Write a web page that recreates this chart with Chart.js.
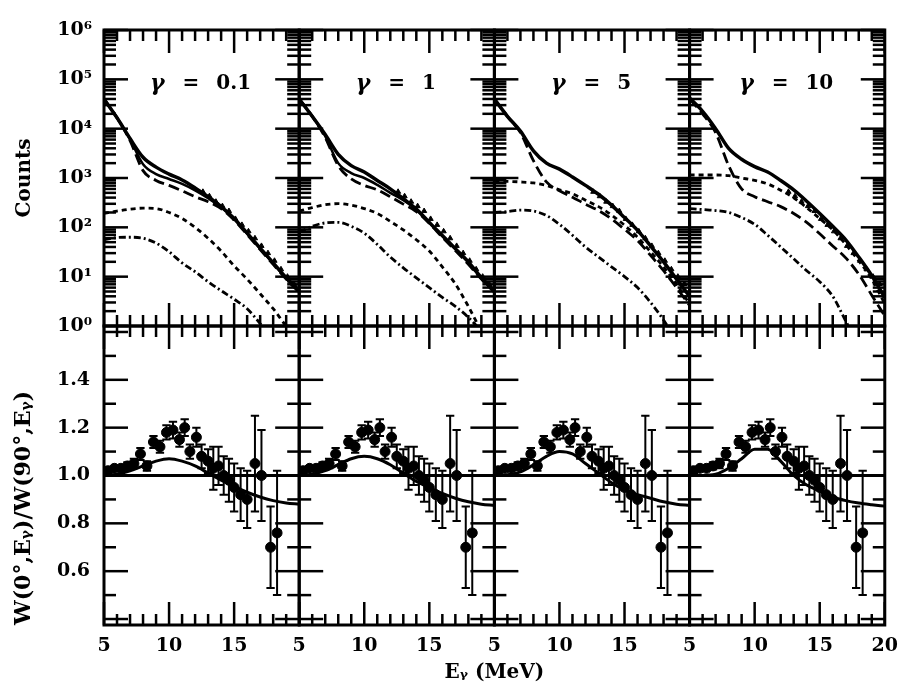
<!DOCTYPE html>
<html><head><meta charset="utf-8">
<script src="https://cdn.jsdelivr.net/npm/chart.js@4.4.1/dist/chart.umd.min.js"></script>
<style>html,body{margin:0;padding:0;background:#fff;}canvas{display:block}</style>
</head><body>
<canvas id="c" width="908" height="687"></canvas>
<script>
// ---------- data ----------
const gammaLabels = ['0.1', '1', '5', '10'];
const energyGrid = [5,6,7,8,9,10,11,12,13,14,15,16,17,18,19,20];

// top row: counts (gamma = 0.1)
const totalG01     = [39800,16600,6310,2630,1660,1200,912,631,417,263,151,76,38,19,9.5,5.2];
const secondG01    = [39800,16600,6030,1905,1200,955,759,562,389,257,148,74,37,18.6,9.3,5.1];
const longDashG01  = [39800,16600,5750,1410,891,708,550,417,331,240,141,71,35.5,17.8,8.9,4.8];
const shortDashG01 = [191,214,234,245,240,200,151,100,60,33,16.6,8.9,4.5,2.24,1.0,0.5];
const dashDotG01   = [56,62,63,60,48,32,19,12.6,7.9,5.2,3.5,2.24,1.12,0.5,0.25,0.13];
// gamma = 1
const totalG1      = [39800,17800,7590,3020,1780,1320,891,603,380,234,126,68,37,20,9.5,5.2];
const secondG1     = [39800,17800,7080,2000,1260,1000,724,501,355,229,123,66,36,19.5,9.3,5.1];
const longDashG1   = [39800,17800,6610,1780,955,708,575,417,295,209,120,63,34,17.8,8.9,4.8];
const shortDashG1  = [214,251,288,302,282,240,191,132,89,56,33,15.8,7.1,2.5,0.79,0.32];
const dashDotG1    = [79,105,123,126,105,76,45,25,15.1,9.5,6.0,3.8,2.5,1.5,0.79,0.4];
// gamma = 5
const totalG5      = [39800,17800,8910,3550,2000,1510,1050,708,468,282,158,87,42,20,8.9,4.0];
const longDashG5   = [39800,17800,8320,2240,832,550,407,295,219,148,91,54,27,13.2,6.0,2.6];
const shortDashG5  = [851,851,832,794,708,575,479,355,263,178,110,63,32,15.8,7.1,2.8];
const dashDotG5    = [200,209,224,214,174,115,69,40,25,15.8,10,6.0,3.0,1.32,0.5,0.2];
// gamma = 10
const totalG10     = [41700,22400,10000,3980,2400,1700,1320,891,575,339,191,105,56,25,10.5,3.8];
const longDashG10  = [39800,20000,8320,1780,603,417,331,263,191,126,74,42,24,11.2,4.2,1.6];
const shortDashG10 = [1150,1150,1150,1120,1000,891,759,562,398,251,151,89,45,21,8.9,2.8];
const dashDotG10   = [240,229,219,200,158,115,69,40,23,13.2,7.9,4.0,1.26,0.4,0.16,0.06];

// measured spectrum (triangles)
const countsE = [12.6,13.1,13.6,14.1,14.6,15.1,15.6,16.1,16.6,17.1,17.6,18.1,18.6,19.1,19.6];
const countsV = [525,427,331,269,214,148,112,83,60,42,30,21,14.1,10,7.1];

// bottom row: angular-distribution ratio
const ratioE   = [5.3,5.8,6.3,6.8,7.3,7.8,8.3,8.8,9.3,9.8,10.3,10.8,11.2,11.6,12.1,12.5,13.0,13.4,13.8,14.2,14.6,15.0,15.5,16.0,16.6,17.1,17.8,18.3];
const ratioV   = [1.02,1.03,1.03,1.04,1.05,1.09,1.04,1.14,1.12,1.18,1.19,1.15,1.20,1.10,1.16,1.08,1.06,1.03,1.04,1.00,0.98,0.95,0.92,0.90,1.05,1.00,0.70,0.76];
const ratioErr = [0.01,0.01,0.01,0.015,0.02,0.025,0.02,0.025,0.025,0.03,0.035,0.03,0.035,0.03,0.04,0.05,0.05,0.09,0.08,0.08,0.09,0.10,0.11,0.12,0.20,0.19,0.17,0.26];
const ratioFitG01 = [1.0,1.005,1.02,1.04,1.06,1.07,1.06,1.04,1.01,0.98,0.955,0.93,0.91,0.895,0.885,0.88];
const ratioFitG1  = [1.0,1.005,1.02,1.045,1.07,1.08,1.07,1.045,1.01,0.975,0.95,0.925,0.905,0.89,0.88,0.875];
const ratioFitG5  = [1.0,1.003,1.015,1.045,1.08,1.10,1.09,1.05,1.01,0.97,0.94,0.92,0.905,0.89,0.88,0.875];
const ratioFitG10 = [1.0,1.0,1.005,1.03,1.07,1.11,1.11,1.06,1.0,0.96,0.935,0.91,0.895,0.885,0.878,0.872];
const isoE = [5, 20];
const isoV = [1, 1];

// ticks
const countTicks = [1,10,100,1000,10000,100000,1000000];
const countTickLabels = ['10\u2070','10\u00b9','10\u00b2','10\u00b3','10\u2074','10\u2075','10\u2076'];
const ratioTicks = [0.6,0.8,1.0,1.2,1.4];
const ratioTickLabels = ['0.6','0.8','1.0','1.2','1.4'];
const energyTicks = [5,10,15];
const energyTicksLast = [5,10,15,20];
const energyTickLabels = ['5','10','15'];
const energyTickLabelsLast = ['5','10','15','20'];
const ratioMajor = [0.4,0.6,0.8,1.0,1.2,1.4,1.6];
const ratioMinor = [0.5,0.7,0.9,1.1,1.3,1.5];
const energyMinorStep = [5,6,7,8,9,10,11,12,13,14,15,16,17,18,19,20];

// ---------- build ----------
const xIds = ['x1','x2','x3','x4'];
const topSets = [
  {total: totalG01, second: secondG01, longD: longDashG01, shortD: shortDashG01, dd: dashDotG01},
  {total: totalG1,  second: secondG1,  longD: longDashG1,  shortD: shortDashG1,  dd: dashDotG1},
  {total: totalG5,  second: null,      longD: longDashG5,  shortD: shortDashG5,  dd: dashDotG5},
  {total: totalG10, second: null,      longD: longDashG10, shortD: shortDashG10, dd: dashDotG10}
];
const ratioFits = [ratioFitG01, ratioFitG1, ratioFitG5, ratioFitG10];

const pts = (xs, ys) => xs.map((x, i) => ({x, y: ys[i]}));
function lineSet(xid, yid, xs, ys, width, dash) {
  return {type:'scatter', xAxisID:xid, yAxisID:yid, data:pts(xs, ys), showLine:true,
    borderColor:'#000', backgroundColor:'#000', borderWidth:width, borderDash:dash || [],
    pointRadius:0, cubicInterpolationMode:'monotone', spanGaps:false};
}
function errorBars(xid, es, vs, errs) {
  const cap = 0.32;
  const d = [];
  es.forEach((e, i) => {
    const lo = vs[i] - errs[i], hi = vs[i] + errs[i];
    d.push({x:e,y:lo},{x:e,y:hi},{x:e,y:null},
           {x:e-cap,y:hi},{x:e+cap,y:hi},{x:e,y:null},
           {x:e-cap,y:lo},{x:e+cap,y:lo},{x:e,y:null});
  });
  return {type:'scatter', xAxisID:xid, yAxisID:'yBot', data:d, showLine:true, spanGaps:false,
    borderColor:'#000', borderWidth:2, pointRadius:0, tension:0};
}

const datasets = [];
xIds.forEach((xid, p) => {
  const s = topSets[p];
  datasets.push(lineSet(xid,'yTop',energyGrid,s.total,3.5));
  if (s.second) datasets.push(lineSet(xid,'yTop',energyGrid,s.second,2.5));
  datasets.push(lineSet(xid,'yTop',energyGrid,s.longD,2.8,[11,5]));
  datasets.push(lineSet(xid,'yTop',energyGrid,s.shortD,2.8,[5,4]));
  datasets.push(lineSet(xid,'yTop',energyGrid,s.dd,2.8,[7,3,2,3]));
  datasets.push({type:'scatter', xAxisID:xid, yAxisID:'yTop', data:pts(countsE,countsV),
    pointStyle:'triangle', pointRadius:3, backgroundColor:'#000', borderColor:'#000', borderWidth:1});
  datasets.push(lineSet(xid,'yBot',isoE,isoV,3));
  datasets.push(lineSet(xid,'yBot',energyGrid,ratioFits[p],3));
  datasets.push(errorBars(xid, ratioE, ratioV, ratioErr));
  datasets.push({type:'scatter', xAxisID:xid, yAxisID:'yBot', data:pts(ratioE,ratioV),
    pointStyle:'circle', pointRadius:5, backgroundColor:'#000', borderColor:'#000', borderWidth:1});
});

Chart.defaults.font.family = '"DejaVu Serif", serif';
Chart.defaults.font.weight = 'bold';
Chart.defaults.font.size = 19;
Chart.defaults.color = '#000';

const scales = {};
// bottom row first so that top row is stacked above it
scales.yBot = {type:'linear', position:'left', stack:'rows', stackWeight:299, min:0.375, max:1.625,
  grid:{display:false, drawTicks:false}, border:{display:false},
  afterBuildTicks: s => { s.ticks = ratioTicks.map(v => ({value:v})); },
  afterFit: s => { s.width = 104; },
  ticks:{padding:14, callback:(v,i) => ratioTickLabels[i]},
  title:{display:true, text:'W(0\u00b0,E\u1d67)/W(90\u00b0,E\u1d67)', align:'start', padding:{top:11,bottom:0}, font:{size:22,weight:'bold'}}};
scales.yTop = {type:'logarithmic', position:'left', stack:'rows', stackWeight:296, min:1, max:1e6,
  grid:{display:false, drawTicks:false}, border:{display:false},
  afterBuildTicks: s => { s.ticks = countTicks.map(v => ({value:v})); },
  afterFit: s => { s.width = 104; },
  ticks:{padding:12, autoSkip:false, callback:(v,i) => countTickLabels[i]},
  title:{display:true, text:'Counts', padding:{top:13,bottom:0}, font:{size:20,weight:'bold'}}};
xIds.forEach((id, p) => {
  const last = p === 3;
  const tv = last ? energyTicksLast : energyTicks;
  const tl = last ? energyTickLabelsLast : energyTickLabels;
  scales[id] = {type:'linear', position:'bottom', stack:'cols', stackWeight:1, min:5, max:20,
    grid:{display:false, drawTicks:false}, border:{display:false},
    afterBuildTicks: s => { s.ticks = tv.map(v => ({value:v})); },
    afterFit: s => { s.height = 36; },
    ticks:{padding:10, autoSkip:false, maxRotation:0, callback:(v,i) => tl[i]}};
});

const frameTicks = {
  id:'frameTicks',
  afterDatasetsDraw(chart) {
    const ctx = chart.ctx;
    const seg = (a,b,c,d) => { ctx.beginPath(); ctx.moveTo(a,b); ctx.lineTo(c,d); ctx.stroke(); };
    const logMinor = [];
    for (let k = 0; k < 6; k++) for (let m = 2; m <= 9; m++) logMinor.push(m * Math.pow(10, k));
    const rows = [
      {s: chart.scales.yTop, major: countTicks, minor: logMinor},
      {s: chart.scales.yBot, major: ratioMajor, minor: ratioMinor}
    ];
    ctx.save();
    ctx.strokeStyle = '#000';
    ctx.lineCap = 'butt';
    xIds.forEach(id => {
      const xs = chart.scales[id];
      rows.forEach(r => {
        const ys = r.s, L = xs.left, R = xs.right, T = ys.top, B = ys.bottom;
        ctx.lineWidth = 2.5;
        energyMinorStep.forEach(e => {
          const px = xs.getPixelForValue(e);
          const len = e % 5 === 0 ? 23 : 11;
          seg(px, B, px, B - len); seg(px, T, px, T + len);
        });
        r.major.forEach(v => { const py = ys.getPixelForValue(v); seg(L, py, L + 24, py); seg(R, py, R - 24, py); });
        r.minor.forEach(v => { const py = ys.getPixelForValue(v); seg(L, py, L + 12, py); seg(R, py, R - 12, py); });
        ctx.lineWidth = 3;
        ctx.strokeRect(L, T, R - L, B - T);
      });
    });
    ctx.restore();
  },
  afterDraw(chart) {
    const ctx = chart.ctx;
    ctx.save();
    ctx.fillStyle = '#000';
    ctx.textBaseline = 'middle';
    ctx.textAlign = 'left';
    const gFont = 'italic bold 22px "DejaVu Serif"';
    const tFont = 'bold 20px "DejaVu Serif"';
    xIds.forEach((id, p) => {
      const xs = chart.scales[id];
      const cx = (xs.left + xs.right) / 2 - 1;
      const cy = chart.scales.yTop.top + 54;
      ctx.font = gFont; const wg = ctx.measureText('\u03b3').width;
      ctx.font = tFont; const we = ctx.measureText('=').width; const wv = ctx.measureText(gammaLabels[p]).width;
      const g1 = 18, g2 = 17;
      let x = cx - (wg + g1 + we + g2 + wv) / 2;
      ctx.font = gFont; ctx.fillText('\u03b3', x, cy);
      x += wg + g1;
      ctx.font = tFont; ctx.fillText('=', x, cy);
      x += we + g2;
      ctx.fillText(gammaLabels[p], x, cy);
    });
    ctx.restore();
  }
};

new Chart(document.getElementById('c'), {
  type:'scatter',
  data:{datasets},
  options:{
    responsive:false, animation:false, events:[],
    layout:{padding:{left:0, top:30, right:18, bottom:2}},
    plugins:{legend:{display:false}, tooltip:{enabled:false},
      title:{display:true, position:'bottom', fullSize:false, text:'E\u1d67 (MeV)', padding:0,
        font:{size:20, weight:'bold'}, color:'#000'}},
    scales
  },
  plugins:[frameTicks]
});
</script>
</body></html>
